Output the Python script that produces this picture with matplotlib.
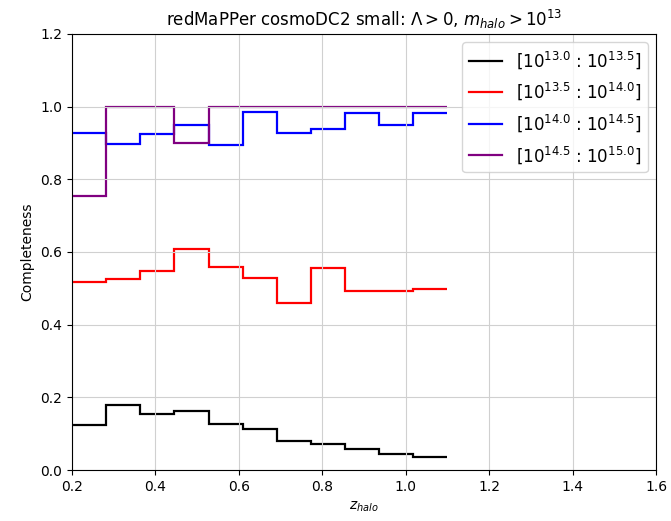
import numpy as np
import matplotlib
matplotlib.use('Agg')
import matplotlib.pyplot as plt

# redshift bins
z_edges = np.linspace(0.2, 1.1, 12)

# completeness per mass bin
comp_13_0 = [0.124, 0.180, 0.154, 0.163, 0.127, 0.113, 0.080, 0.071, 0.057, 0.044, 0.037]
comp_13_5 = [0.517, 0.527, 0.549, 0.608, 0.559, 0.529, 0.461, 0.555, 0.493, 0.493, 0.497]
comp_14_0 = [0.927, 0.897, 0.924, 0.949, 0.895, 0.985, 0.927, 0.938, 0.983, 0.949, 0.982]
comp_14_5 = [0.754, 1.0, 1.0, 0.901, 1.0, 1.0, 1.0, 1.0, 1.0, 1.0, 1.0]

mass_bins = [('13.0', '13.5'), ('13.5', '14.0'), ('14.0', '14.5'), ('14.5', '15.0')]
labels = ['[$10^{%s}$ : $10^{%s}$]' % (lo, hi) for lo, hi in mass_bins]
colors = ['black', 'red', 'blue', 'purple']

fig = plt.figure(figsize=(6.71, 5.21), dpi=100)
ax = fig.add_axes([72/671, 1 - 470/521, 584/671, 436/521])

for vals, lab, c in zip([comp_13_0, comp_13_5, comp_14_0, comp_14_5], labels, colors):
    ax.stairs(vals, z_edges, baseline=None, color=c, lw=1.6, label=lab)

ax.set_xlim(0.2, 1.6)
ax.set_ylim(0, 1.2)
ax.grid(True, color='#d0d0d0')
ax.set_xlabel(r'$z_{halo}$')
ax.set_ylabel('Completeness')
ax.set_title(r'redMaPPer cosmoDC2 small: $\Lambda > 0$, $m_{halo} > 10^{13}$')
ax.legend(loc='upper right', fontsize=12, labelspacing=0.6)

fig.savefig('out.png', dpi=100)
